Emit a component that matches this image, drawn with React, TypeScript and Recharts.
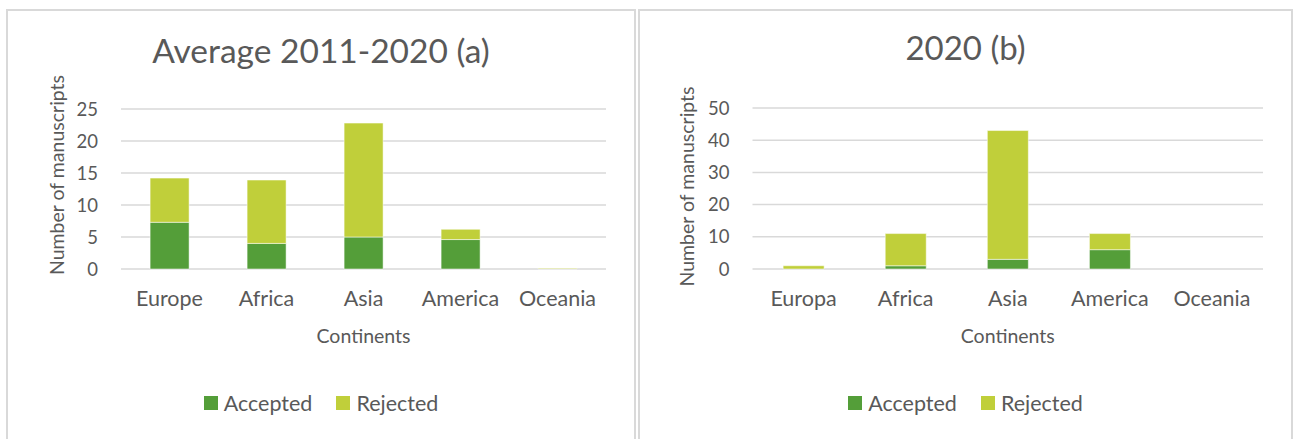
import React from "react";
import { BarChart, Bar, XAxis, YAxis, CartesianGrid } from "recharts";

// chart values
const continentsA = ["Europe", "Africa", "Asia", "America", "Oceania"];
const acceptedA = [7.3, 4.0, 5.0, 4.6, 0];
const rejectedA = [6.9, 9.9, 17.8, 1.6, 0.1];
const ticksA = [0, 5, 10, 15, 20, 25];

const continentsB = ["Europa", "Africa", "Asia", "America", "Oceania"];
const acceptedB = [0, 1, 3, 6, 0];
const rejectedB = [1, 10, 40, 5, 0];
const ticksB = [0, 10, 20, 30, 40, 50];

const GREEN = "#549E39";
const LIME = "#C0CF3A";
const TEXT = "#595959";
const GRID = "#d9d9d9";
const FONT = "Lato, 'Open Sans', sans-serif";

const toRows = (cats: string[], acc: number[], rej: number[]) =>
  cats.map((name, i) => ({ name, Accepted: acc[i], Rejected: rej[i] }));

interface PanelProps {
  left: number;
  width: number;
  title: string;
  titleSize: number;
  titleTop: number;
  cats: string[];
  acc: number[];
  rej: number[];
  ticks: number[];
  yLabelX: number;
  yLabelY: number;
  plotTop: number;
  plotLeft: number;
}

function Panel({
  left,
  width,
  title,
  titleSize,
  titleTop,
  cats,
  acc,
  rej,
  ticks,
  yLabelX,
  yLabelY,
  plotTop,
  plotLeft,
}: PanelProps) {
  const data = toRows(cats, acc, rej);
  const chartW = width - 4;
  const chartH = 428;

  const YLabel = () => (
    <text
      x={yLabelX}
      y={yLabelY}
      transform={`rotate(-90, ${yLabelX}, ${yLabelY})`}
      textAnchor="middle"
      dominantBaseline="central"
      fill={TEXT}
      fontSize={19.5}
      fontFamily={FONT}
    >
      Number of manuscripts
    </text>
  );

  const XLabel = ({ viewBox }: any) => (
    <text
      x={viewBox.x + viewBox.width / 2}
      y={324}
      textAnchor="middle"
      dominantBaseline="central"
      fill={TEXT}
      fontSize={19.5}
      fontFamily={FONT}
    >
      Continents
    </text>
  );

  return (
    <div
      style={{
        position: "absolute",
        left,
        top: 9,
        width,
        height: 440,
        boxSizing: "border-box",
        border: `2px solid ${GRID}`,
        background: "#fff",
      }}
    >
      <div
        style={{
          position: "absolute",
          left: 0,
          top: titleTop,
          width: "100%",
          textAlign: "center",
          fontFamily: FONT,
          fontSize: titleSize,
          lineHeight: 1,
          color: TEXT,
          whiteSpace: "nowrap",
        }}
      >
        {title}
      </div>

      <BarChart
        width={chartW}
        height={chartH}
        data={data}
        margin={{ top: plotTop, right: 28, bottom: 90, left: 0 }}
        barCategoryGap="30%"
      >
        <CartesianGrid vertical={false} stroke={GRID} strokeWidth={1.5} />
        <XAxis
          dataKey="name"
          axisLine={false}
          tickLine={false}
          tickSize={0}
          tickMargin={22}
          height={80}
          interval={0}
          tick={{ fill: TEXT, fontSize: 21.5, fontFamily: FONT }}
          label={<XLabel />}
        />
        <YAxis
          width={plotLeft}
          domain={[ticks[0], ticks[ticks.length - 1]]}
          ticks={ticks}
          axisLine={false}
          tickLine={false}
          tickSize={0}
          tickMargin={23}
          tick={{ fill: TEXT, fontSize: 18.5, fontFamily: FONT }}
          label={<YLabel />}
        />
        <Bar
          dataKey="Accepted"
          stackId="a"
          fill={GREEN}
          stroke="#ffffff"
          strokeOpacity={0.5}
          strokeWidth={1}
          isAnimationActive={false}
        />
        <Bar
          dataKey="Rejected"
          stackId="a"
          fill={LIME}
          stroke="#ffffff"
          strokeOpacity={0.5}
          strokeWidth={1}
          isAnimationActive={false}
        />
      </BarChart>

      {/* legend */}
      <div
        style={{
          position: "absolute",
          left: 0,
          top: 392 - 13,
          width: "100%",
          height: 26,
          display: "flex",
          justifyContent: "center",
          alignItems: "center",
          fontFamily: FONT,
          fontSize: 21.5,
          color: TEXT,
        }}
      >
        {[
          { name: "Accepted", color: GREEN },
          { name: "Rejected", color: LIME },
        ].map((item, i) => (
          <div
            key={item.name}
            style={{ display: "flex", alignItems: "center", marginLeft: i ? 24 : 0 }}
          >
            <span
              style={{ width: 14, height: 14, background: item.color, marginRight: 6 }}
            />
            <span>{item.name}</span>
          </div>
        ))}
      </div>
    </div>
  );
}

export default function App() {
  return (
    <div
      style={{
        position: "absolute",
        left: 0,
        top: 0,
        width: 1293,
        height: 439,
        overflow: "hidden",
        background: "#fff",
      }}
    >
      <Panel
        left={6}
        width={630}
        title="Average 2011-2020 (a)"
        titleSize={33.5}
        titleTop={22.5}
        cats={continentsA}
        acc={acceptedA}
        rej={rejectedA}
        ticks={ticksA}
        yLabelX={48.7}
        yLabelY={164}
        plotTop={98}
        plotLeft={113}
      />
      <Panel
        left={638}
        width={655}
        title="2020 (b)"
        titleSize={33}
        titleTop={20}
        cats={continentsB}
        acc={acceptedB}
        rej={rejectedB}
        ticks={ticksB}
        yLabelX={46.7}
        yLabelY={175.5}
        plotTop={97}
        plotLeft={112.5}
      />
    </div>
  );
}
